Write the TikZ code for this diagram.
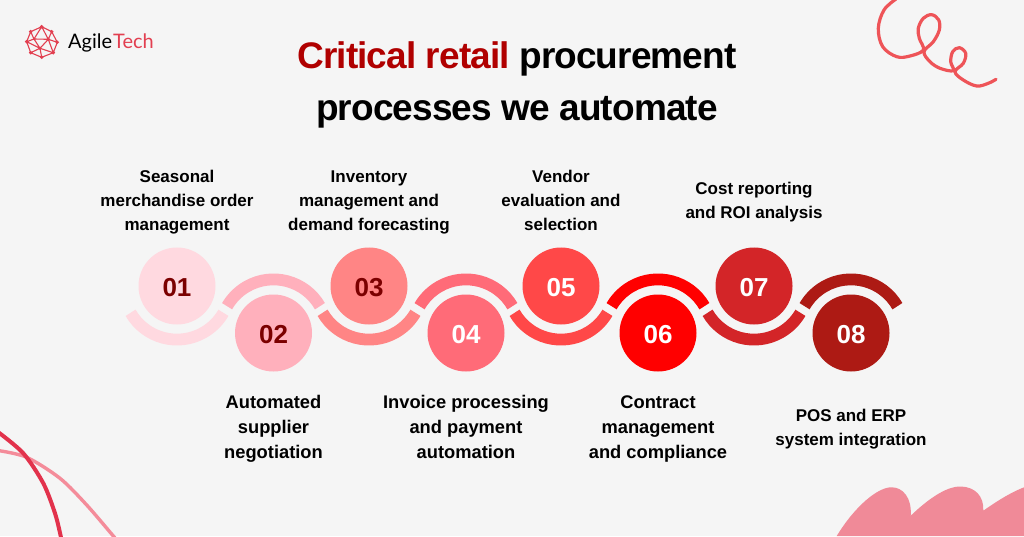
\documentclass[tikz,border=0pt]{standalone}
\usepackage{fontspec}
\setmainfont{Liberation Sans}
\newfontfamily\logofont{Lato}
\usepackage{tikz}
\usetikzlibrary{positioning}
\definecolor{paper}{HTML}{F5F5F5}
\definecolor{dark}{HTML}{7B0000}
\definecolor{titlered}{HTML}{B00000}
\definecolor{C1}{HTML}{FFD9E0}
\definecolor{C2}{HTML}{FFB0BC}
\definecolor{C3}{HTML}{FF8585}
\definecolor{C4}{HTML}{FF6B78}
\definecolor{C5}{HTML}{FF4848}
\definecolor{C6}{HTML}{FF0000}
\definecolor{C7}{HTML}{D32528}
\definecolor{C8}{HTML}{AD1A14}
\definecolor{swirl}{HTML}{EE5458}
\definecolor{deepline}{HTML}{E2324C}
\definecolor{paleline}{HTML}{F48C9A}
\definecolor{blob}{HTML}{F08A98}
\definecolor{logored}{HTML}{E23F50}
\tikzstyle{num}  = [circle,minimum size=77pt,inner sep=0pt,text height=20.6pt,text depth=0pt,font=\fontsize{26}{26}\selectfont\bfseries]
\tikzstyle{lab}  = [align=center,inner sep=0pt,execute at begin node=\strut,execute at end node=\strut,font=\fontsize{17}{24}\selectfont\bfseries]
\tikzstyle{labb} = [align=center,inner sep=0pt,execute at begin node=\strut,execute at end node=\strut,font=\fontsize{18.3}{25}\selectfont\bfseries]
\tikzstyle{band} = [line width=11.8pt]

\begin{document}
\begin{tikzpicture}[x=1pt,y=1pt,on grid]
\useasboundingbox[fill=paper] (0,0) rectangle (1024,536);

% corners
\draw[swirl,line width=3.2pt,line cap=round] plot[smooth,tension=0.6] coordinates {
  (896,537) (884,526) (878.3,507.7) (882.7,489.3) (896.7,479.3) (910,480) (923.3,486) (919.3,497.7)
  (918.3,507.7) (923.3,517.7) (931.7,521.3) (938.7,516) (939.3,506) (933.3,494.3) (924,484.3)
  (930,474.3) (940,467.7) (953.3,465.3) (950.7,474.3) (952.7,484.3) (959.3,488.3) (965.7,482.7)
  (963.3,472.7) (955,464.3) (963.3,456) (976.7,450) (988.3,452.7) (996,456.7)};
\draw[paleline,line width=3.4pt] plot[smooth] coordinates {(-2,85.5) (26.7,78.7) (60,57.7) (86.7,31) (113.3,0) (116,-3)};
\draw[deepline,line width=4pt] plot[smooth] coordinates {(-2,104) (23.3,82.7) (43.3,52.7) (55,22.7) (60.7,0) (61,-3)};
\fill[blob] (836.7,0) .. controls (855,30) and (878,49) .. (891.7,48.7)
  .. controls (903,48.7) and (912,38) .. (910.7,20.3)
  .. controls (925,34) and (945,50) .. (961,49.5)
  .. controls (975,49) and (984,40) .. (983.3,25.3)
  .. controls (1000,37) and (1012,44) .. (1024,48.7) -- (1024,0) -- cycle;

% logo
\coordinate (L1) at (41.7,509.3);
\coordinate (L2) at (51.7,504.3);
\coordinate (L3) at (57.3,493.7);
\coordinate (L4) at (53.3,483.3);
\coordinate (L5) at (41.7,478.7);
\coordinate (L6) at (30.7,483.3);
\coordinate (L7) at (26.7,494.3);
\coordinate (L8) at (30.7,504.3);
\coordinate (L9) at (48.3,496.7);
\coordinate (L10) at (40,487.7);
\coordinate (L11) at (34,497);
\draw[logored,line width=1.1pt] (L1) -- (L2) -- (L3) -- (L4) -- (L5) -- (L6) -- (L7) -- (L8) -- cycle
  (L1) -- (L9) -- (L3) (L2) -- (L9) -- (L4) (L9) -- (L10) -- (L5) (L10) -- (L6) (L10) -- (L7)
  (L8) -- (L11) -- (L9) (L11) -- (L10) (L11) -- (L1) (L11) -- (L7) (L10) -- (L4);
\fill[logored] (L1) circle (1.9) (L2) circle (1.9) (L3) circle (1.9) (L4) circle (1.9) (L5) circle (1.9)
  (L6) circle (1.9) (L7) circle (1.9) (L8) circle (1.9) (L9) circle (1.9) (L10) circle (1.7);
\node[anchor=west,inner sep=0pt,font=\fontsize{20}{20}\selectfont\logofont] (Logo) at (68,493) {Agile\kern1pt\textcolor{logored}{Tech}};

% title
\node[align=center,inner sep=0pt,font=\fontsize{37}{52}\selectfont\bfseries\addfontfeature{LetterSpace=-2.4}] (Title) at (517,451)
  {\textcolor{titlered}{Critical retail} procurement\\processes we automate};

% steps
\node[num,fill=C1,text=dark] (X1) at (177,250) {01};
\node[num,fill=C2,text=dark] (X2) [below right=47pt and 96.5pt of X1] {02};
\node[num,fill=C3,text=dark] (X3) [above right=47pt and 95.5pt of X2] {03};
\node[num,fill=C4,text=white] (X4) [below right=47pt and 97pt of X3] {04};
\node[num,fill=C5,text=white] (X5) [above right=47pt and 95pt of X4] {05};
\node[num,fill=C6,text=white] (X6) [below right=47pt and 97pt of X5] {06};
\node[num,fill=C7,text=white] (X7) [above right=47pt and 96pt of X6] {07};
\node[num,fill=C8,text=white] (X8) [below right=47pt and 97pt of X7] {08};

\draw[band,C1] ([shift={(210:53.6)}]X1.center) arc[start angle=210,delta angle=120,radius=53.6];
\draw[band,C2] ([shift={(30:53.6)}]X2.center) arc[start angle=30,delta angle=120,radius=53.6];
\draw[band,C3] ([shift={(210:53.6)}]X3.center) arc[start angle=210,delta angle=120,radius=53.6];
\draw[band,C4] ([shift={(30:53.6)}]X4.center) arc[start angle=30,delta angle=120,radius=53.6];
\draw[band,C5] ([shift={(210:53.6)}]X5.center) arc[start angle=210,delta angle=120,radius=53.6];
\draw[band,C6] ([shift={(30:53.6)}]X6.center) arc[start angle=30,delta angle=120,radius=53.6];
\draw[band,C7] ([shift={(210:53.6)}]X7.center) arc[start angle=210,delta angle=120,radius=53.6];
\draw[band,C8] ([shift={(30:53.6)}]X8.center) arc[start angle=30,delta angle=120,radius=53.6];

\node[lab] (T1) [above=82pt of X1] {Seasonal\\merchandise order\\management};
\node[labb] (T2) [below=98pt of X2] {Automated\\supplier\\negotiation};
\node[lab] (T3) [above=82pt of X3] {Inventory\\management and\\demand forecasting};
\node[labb] (T4) [below=98pt of X4] {Invoice processing\\and payment\\automation};
\node[lab] (T5) [above=82pt of X5] {Vendor\\evaluation and\\selection};
\node[labb] (T6) [below=98pt of X6] {Contract\\management\\and compliance};
\node[lab] (T7) [above=82pt of X7] {Cost reporting\\and ROI analysis};
\node[lab] (T8) [below=98pt of X8] {POS and ERP\\system integration};

\end{tikzpicture}
\end{document}
